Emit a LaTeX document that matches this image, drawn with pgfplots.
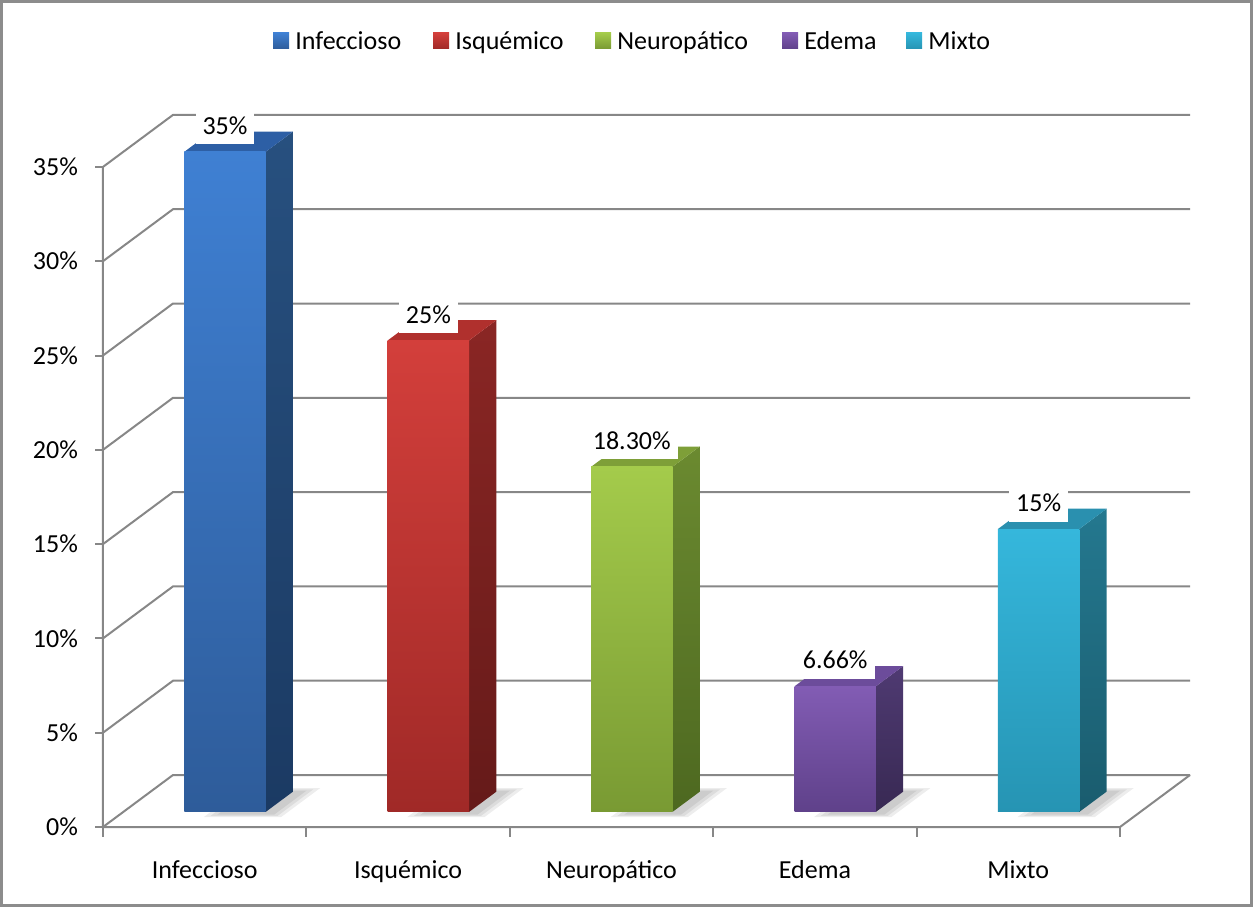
\documentclass[border=0pt]{standalone}
\usepackage{pgfplots}
\pgfplotsset{compat=1.18}
\usepackage{pgfplotstable}
\usepackage{fontspec}
\setmainfont{Carlito}

% face colours: front (top/bottom), side (top/bottom), top face
\definecolor{f0t}{HTML}{3F80D3}\definecolor{f0b}{HTML}{2E5C9A}
\definecolor{s0t}{HTML}{27507F}\definecolor{s0b}{HTML}{1B3A63}\definecolor{t0}{HTML}{2D5FA5}
\definecolor{f1t}{HTML}{D33F3B}\definecolor{f1b}{HTML}{A02927}
\definecolor{s1t}{HTML}{8A2624}\definecolor{s1b}{HTML}{651A19}\definecolor{t1}{HTML}{B0302D}
\definecolor{f2t}{HTML}{A4CB4B}\definecolor{f2b}{HTML}{799A33}
\definecolor{s2t}{HTML}{6B8A30}\definecolor{s2b}{HTML}{4D6820}\definecolor{t2}{HTML}{7E9F38}
\definecolor{f3t}{HTML}{825CB4}\definecolor{f3b}{HTML}{5F418A}
\definecolor{s3t}{HTML}{4F3A72}\definecolor{s3b}{HTML}{382953}\definecolor{t3}{HTML}{6C4C9B}
\definecolor{f4t}{HTML}{35B7DC}\definecolor{f4b}{HTML}{2694B3}
\definecolor{s4t}{HTML}{24788F}\definecolor{s4b}{HTML}{1A5C6E}\definecolor{t4}{HTML}{2A90AF}
\definecolor{gridcol}{HTML}{878787}
\definecolor{framecol}{HTML}{8C8C8C}

\tikzset{lbl/.style={fill=white, inner xsep=3.5pt, inner ysep=5pt,
    text height=8.6pt, text depth=0pt, yshift=13pt}}

\pgfplotstableread{
cat val
Infeccioso 35
Isquémico 25
Neuropático 18.30
Edema 6.66
Mixto 15
}\bardata

% one soft layer of the floor shadow behind bar #1, grown by #2
\newcommand\shadowlayer[2]{%
  \pgfmathsetmacro\sxa{#1+0.48-#2}%
  \pgfmathsetmacro\sxb{#1+0.76+#2}%
  \pgfmathsetmacro\sda{0.24-#2}%
  \pgfmathsetmacro\sdb{0.70+#2}%
  \edef\temp{\noexpand\addplot3[draw=none, fill=black, fill opacity=0.07]
    coordinates {(\sxa,\sda,0) (\sxb,\sda,0) (\sxb,\sdb,0) (\sxa,\sdb,0)};}%
  \temp}

\begin{document}
\begin{tikzpicture}[font=\fontsize{13}{15.6}\selectfont]
\begin{axis}[
  x={(101.7pt,0pt)}, y={(35pt,26pt)}, z={(0pt,9.43pt)},
  xmin=0, xmax=5, ymin=0, ymax=1, zmin=0, zmax=35,
  hide axis, clip=false,
]
% left wall and back wall grid lines
\pgfplotsinvokeforeach{0,5,...,35}{
  \addplot3[gridcol, line width=1pt] coordinates {(0,0,#1) (0,1,#1) (5,1,#1)};
  \draw[gridcol, line width=1pt] (axis cs:0,0,#1) -- ++(-4pt,0pt);
  \node[anchor=east, xshift=-9pt] at (axis cs:0,0,#1) {#1\%};
}
% front value axis and floor
\addplot3[gridcol, line width=1pt] coordinates {(0,0,35) (0,0,0) (5,0,0) (5,1,0)};
\pgfplotsinvokeforeach{0,...,5}{
  \draw[gridcol, line width=1pt] (axis cs:#1,0,0) -- ++(0pt,-5pt);
}
% bars
\pgfplotsinvokeforeach{0,...,4}{
  \pgfplotstablegetelem{#1}{val}\of\bardata
  \edef\barval{\pgfplotsretval}
  \pgfplotstablegetelem{#1}{cat}\of\bardata
  \edef\barcat{\pgfplotsretval}
  \pgfmathsetmacro\xl{#1+0.3}
  \pgfmathsetmacro\xr{#1+0.7}
  \pgfmathsetmacro\xc{#1+0.5}
  \shadowlayer{#1}{0}
  \shadowlayer{#1}{0.025}
  \shadowlayer{#1}{0.05}
  \edef\temp{%
    \noexpand\addplot3[draw=none, top color=s#1t, bottom color=s#1b]
      coordinates {(\xr,0.29,0) (\xr,0.68,0) (\xr,0.68,\barval) (\xr,0.29,\barval)};
    \noexpand\addplot3[draw=none, fill=t#1]
      coordinates {(\xl,0.29,\barval) (\xr,0.29,\barval) (\xr,0.68,\barval) (\xl,0.68,\barval)};
    \noexpand\addplot3[draw=none, top color=f#1t, bottom color=f#1b]
      coordinates {(\xl,0.29,0) (\xr,0.29,0) (\xr,0.29,\barval) (\xl,0.29,\barval)};
    \noexpand\node[lbl] at (axis cs:\xc,0.29,\barval) {\barval\noexpand\%};
    \noexpand\node[anchor=base, yshift=-25.5pt] at (axis cs:\xc,0,0) {\barcat};
  }\temp
}
\coordinate (O) at (axis cs:0,0,0);
\end{axis}
\begin{scope}[shift={(O)}]
  \draw[framecol, line width=1.5pt] (-50.75pt,412.75pt) rectangle (574.25pt,-39.25pt);
  \foreach \x/\n/\k in {85/Infeccioso/0, 165/Isquémico/1, 246/Neuropático/2,
                        339.5/Edema/3, 401.5/Mixto/4}{
    \shade[top color=f\k t, bottom color=f\k b] (\x pt,389pt) rectangle ++(8pt,8pt);
    \node[anchor=base west, inner sep=0pt] at (\x pt+11pt,388.5pt) {\n};
  }
\end{scope}
\end{tikzpicture}
\end{document}
